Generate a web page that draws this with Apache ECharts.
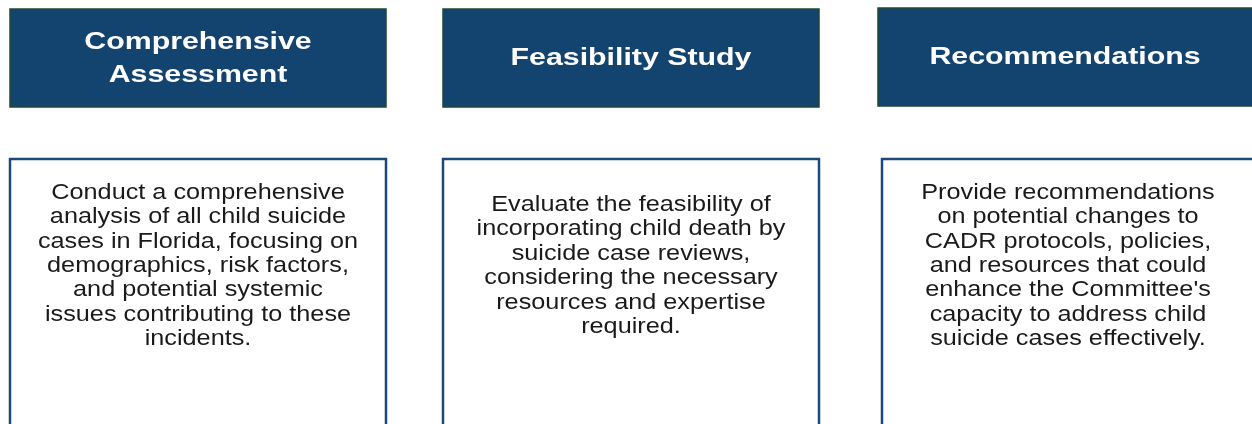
<!DOCTYPE html>
<html>
<head>
<meta charset="utf-8">
<script src="https://cdn.jsdelivr.net/npm/echarts@6/dist/echarts.min.js"></script>
<style>
  html, body { margin: 0; padding: 0; background: #fff; }
  #main { width: 1252px; height: 424px; }
</style>
</head>
<body>
<div id="main"></div>
<script>
const titles = [
  ['Comprehensive', 'Assessment'],
  ['Feasibility Study'],
  ['Recommendations']
];
const descriptions = [
  ['Conduct a comprehensive', 'analysis of all child suicide', 'cases in Florida, focusing on',
    'demographics, risk factors,', 'and potential systemic', 'issues contributing to these', 'incidents.'],
  ['Evaluate the feasibility of', 'incorporating child death by', 'suicide case reviews,',
    'considering the necessary', 'resources and expertise', 'required.'],
  ['Provide recommendations', 'on potential changes to', 'CADR protocols, policies,',
    'and resources that could', "enhance the Committee's", 'capacity to address child',
    'suicide cases effectively.']
];

// column layout
const headLeft = [10, 443, 878];
const bodyLeft = [10, 443, 882];
const colWidth = 376;

const chart = echarts.init(document.getElementById('main'), null, {
  width: 1252,
  height: 424,
  renderer: 'canvas',
  devicePixelRatio: 1
});

const elements = [];
titles.forEach((t, i) => {
  elements.push({
    type: 'rect',
    shape: { x: headLeft[i], y: i === 2 ? 8 : 9, width: colWidth, height: 98 },
    style: { fill: '#13436f', stroke: '#1e4a30', lineWidth: 1.5 }
  });
  // the source text is set wide, so stretch it a bit
  elements.push({
    type: 'text',
    x: headLeft[i] + colWidth / 2 + (i === 2 ? -1 : 0),
    y: i === 2 ? 58 : 59,
    scaleX: 1.29,
    style: {
      text: t.join('\n'),
      x: 0,
      y: 0,
      align: 'center',
      verticalAlign: 'middle',
      fill: '#ffffff',
      font: 'bold 23.5px "Liberation Sans", Arial, sans-serif',
      lineHeight: 33
    }
  });
});
descriptions.forEach((d, i) => {
  elements.push({
    type: 'rect',
    shape: { x: bodyLeft[i], y: 159, width: colWidth, height: 300 },
    style: { fill: '#ffffff', stroke: '#1c4a78', lineWidth: 2.5 }
  });
  elements.push({
    type: 'text',
    x: bodyLeft[i] + colWidth / 2 - (i === 2 ? 2 : 0),
    y: 266,
    scaleX: 1.175,
    style: {
      text: d.join('\n'),
      x: 0,
      y: 0,
      align: 'center',
      verticalAlign: 'middle',
      fill: '#1a1a1a',
      font: '21.5px "Liberation Sans", Arial, sans-serif',
      lineHeight: 24.4
    }
  });
});

chart.setOption({
  animation: false,
  graphic: { elements: elements }
});
</script>
</body>
</html>
